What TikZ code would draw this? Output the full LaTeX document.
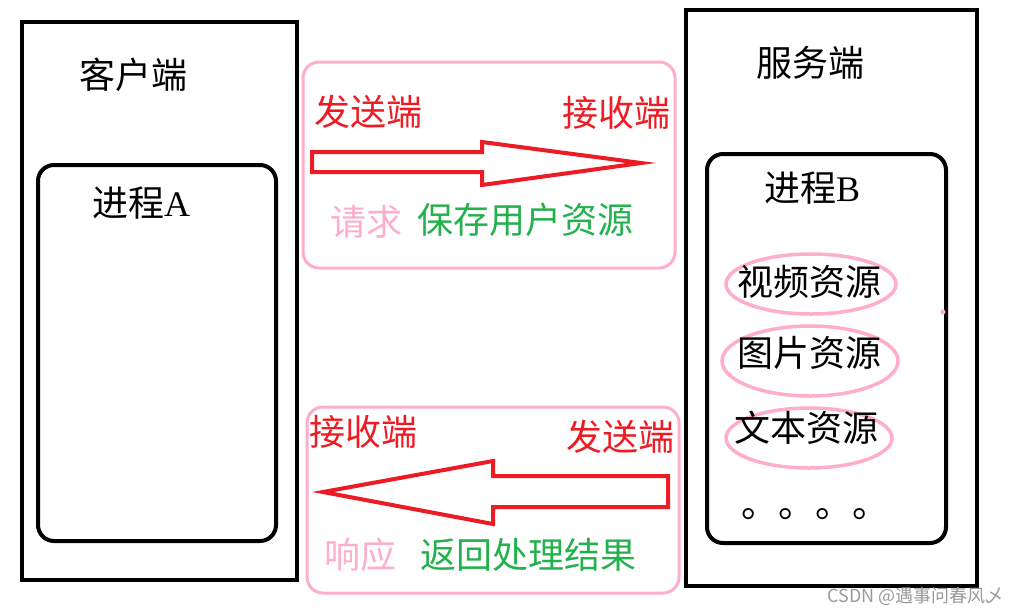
\documentclass[tikz,border=0pt]{standalone}
\usepackage{fontspec}
\setmainfont{Liberation Serif}
\newfontfamily\cjk{Noto Sans CJK SC}
\usetikzlibrary{positioning,calc}
\definecolor{paintred}{RGB}{237,28,36}
\definecolor{paintpink}{RGB}{255,174,201}
\definecolor{paintgreen}{RGB}{34,177,76}
\tikzset{
  lbl/.style={font=\cjk\fontsize{36}{40}\selectfont,inner sep=0pt},
  hostbox/.style={draw=black,line width=4pt},
  procbox/.style={draw=black,line width=4pt,rounded corners=16pt},
  pinkbox/.style={draw=paintpink,line width=3pt,rounded corners=16pt},
  bigarrow/.style={draw=paintred,line width=4pt,miter limit=20},
  resring/.style={draw=paintpink,line width=3.5pt}
}

\begin{document}
\begin{tikzpicture}[x=1pt,y=-1pt]
\useasboundingbox (0,0) rectangle (1016,614);
% client side
\draw[hostbox] (22,22) rectangle (297,580);
\node[lbl] (client) at (133,75) {客户端};
\draw[procbox] (38,165) rectangle (276,541);
\node[lbl] (procA) at (141,203) {进程\rmfamily A};
% server side
\draw[hostbox] (686,10) rectangle (977,586);
\node[lbl] (server) at (810,63) {服务端};
\draw[procbox] (707,154) rectangle (946,543);
\node[lbl] (procB) at (812,188) {进程\rmfamily B};
\draw[resring] (811,284) ellipse [x radius=85,y radius=30];
\node[lbl] (video) at (809,282) {视频资源};
\draw[resring] (810,361) ellipse [x radius=88,y radius=35];
\node[lbl] (image) at (809,353) {图片资源};
\draw[resring] (809,438) ellipse [x radius=83,y radius=30];
\node[lbl] (text) at (806,428) {文本资源};
\node[lbl,font=\cjk\fontsize{37}{40}\selectfont,anchor=west] (dots) at (741,514) {。。。。};
\fill[paintpink] (943,312) circle (2.5);
% request
\draw[pinkbox] (303,62) rectangle (675,268);
\node[lbl,text=paintred] (send1) at (368,112) {发送端};
\node[lbl,text=paintred] (recv1) at (616,113) {接收端};
\draw[bigarrow] (312,152) -- (482,152) -- (482,142) -- (641,163)
  -- (482,185) -- (482,172) -- (312,172) -- cycle;
\node[lbl,text=paintpink] (req) at (366,222) {请求};
\node[lbl,text=paintgreen] (save) at (525,220) {保存用户资源};
% response
\draw[pinkbox] (307,407) rectangle (679,593);
\node[lbl,text=paintred] (recv2) at (363,432) {接收端};
\node[lbl,text=paintred] (send2) at (620,437) {发送端};
\draw[bigarrow] (668,476) -- (493,476) -- (493,461) -- (323,492)
  -- (493,524) -- (493,507) -- (668,507) -- cycle;
\node[lbl,text=paintpink] (resp) at (360,555) {响应};
\node[lbl,text=paintgreen] (ret) at (528,555) {返回处理结果};
% watermark
\node[font=\cjk\fontsize{18}{20}\selectfont,text=black!40,anchor=east,inner sep=0pt]
  (mark) at (1004,596) {CSDN @遇事问春风乄};
\end{tikzpicture}
\end{document}
